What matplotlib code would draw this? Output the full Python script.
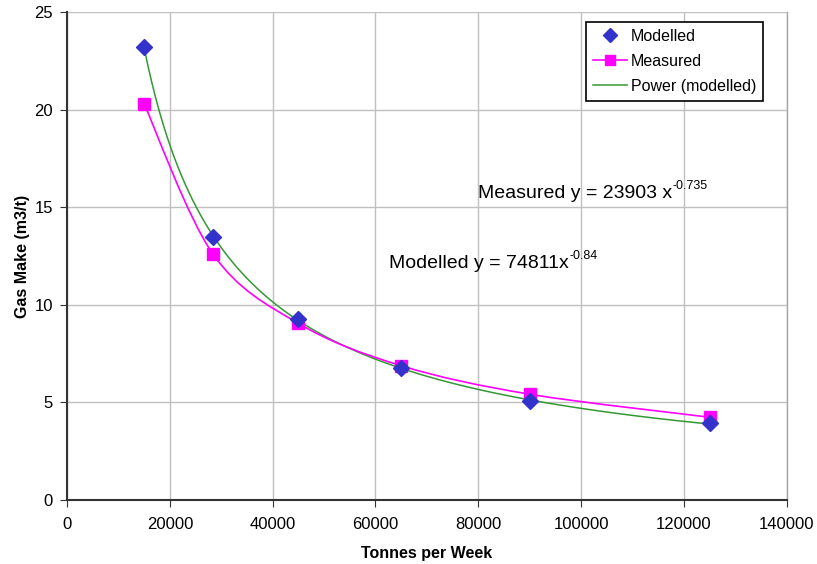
import numpy as np
import matplotlib.pyplot as plt
from matplotlib.path import Path
from matplotlib.patches import PathPatch

plt.rcParams["font.family"] = ["Liberation Sans", "DejaVu Sans"]

tonnes = [15000, 28400, 45000, 65000, 90000, 125000]
modelled = [23.2, 13.5, 9.25, 6.75, 5.07, 3.92]
measured = [20.3, 12.6, 9.05, 6.88, 5.42, 4.24]


def smooth_path(xs, ys, tension=1 / 6):
    # Excel style smoothed line, cubic bezier through the points
    pts = np.column_stack([xs, ys])
    verts = [pts[0]]
    codes = [Path.MOVETO]
    n = len(pts)
    for i in range(n - 1):
        p0 = pts[max(i - 1, 0)]
        p1 = pts[i]
        p2 = pts[i + 1]
        p3 = pts[min(i + 2, n - 1)]
        c1 = p1 + (p2 - p0) * tension
        c2 = p2 - (p3 - p1) * tension
        verts += [c1, c2, p2]
        codes += [Path.CURVE4] * 3
    return Path(verts, codes)


fig = plt.figure(figsize=(8.17, 5.64), dpi=100)
ax = fig.add_axes([0.082, 0.1135, 0.881, 0.865])

# power trendline fitted to the modelled points
b, ln_a = np.polyfit(np.log(tonnes), np.log(modelled), 1)
xt = np.linspace(tonnes[0], tonnes[-1], 300)
ax.plot(xt, np.exp(ln_a) * xt ** b, color="#339933", lw=1.1, zorder=3)

# measured, smoothed line with square markers
ax.add_patch(PathPatch(smooth_path(np.array(tonnes, float), np.array(measured)),
                       facecolor="none", edgecolor="#ff00ff", lw=1.2, zorder=3))
ax.plot(tonnes, measured, ls="none", marker="s", ms=8, color="#ff00ff", zorder=4)
ax.plot(tonnes, modelled, ls="none", marker="D", ms=8, color="#3333cc", zorder=5)

ax.set_xlim(0, 140000)
ax.set_ylim(0, 25)
ax.set_xticks(np.arange(0, 140001, 20000))
ax.set_yticks(np.arange(0, 26, 5))
ax.grid(True, color="#c0c0c0", lw=1)
ax.set_axisbelow(True)
ax.spines["top"].set_visible(False)
ax.spines["right"].set_color("#a6a6a6")
ax.spines["right"].set_linewidth(1)
for s in ["left", "bottom"]:
    ax.spines[s].set_color("#333333")
    ax.spines[s].set_linewidth(1.5)
ax.tick_params(labelsize=12, length=5, color="#333333")
ax.tick_params(axis="x", pad=7)
ax.tick_params(axis="y", pad=5)
ax.set_xlabel("Tonnes per Week", fontsize=11.5, fontweight="bold", labelpad=10)
ax.set_ylabel("Gas Make (m3/t)", fontsize=11.5, fontweight="bold", labelpad=3)

t1 = ax.text(80000, 15.7, "Measured y = 23903 x", fontsize=14, va="center")
ax.annotate("-0.735", xy=(1, 0.62), xycoords=t1, fontsize=9, va="bottom")
t2 = ax.text(62700, 12.1, "Modelled y = 74811x", fontsize=14, va="center")
ax.annotate("-0.84", xy=(1, 0.62), xycoords=t2, fontsize=9, va="bottom")

h1, = ax.plot([], [], ls="none", marker="D", ms=7, color="#3333cc")
h2, = ax.plot([], [], marker="s", ms=7, color="#ff00ff", lw=1.2)
h3, = ax.plot([], [], color="#339933", lw=1.1)
leg = ax.legend([h1, h2, h3], ["Modelled", "Measured", "Power (modelled)"],
                loc="upper left", bbox_to_anchor=(0.721, 0.98), fontsize=11.5,
                frameon=True, fancybox=False, framealpha=1, edgecolor="black",
                handlelength=2.1, borderpad=0.45, labelspacing=0.62,
                handletextpad=0.25, borderaxespad=0)
leg.get_frame().set_linewidth(1.2)

fig.savefig("out.png", dpi=100)
